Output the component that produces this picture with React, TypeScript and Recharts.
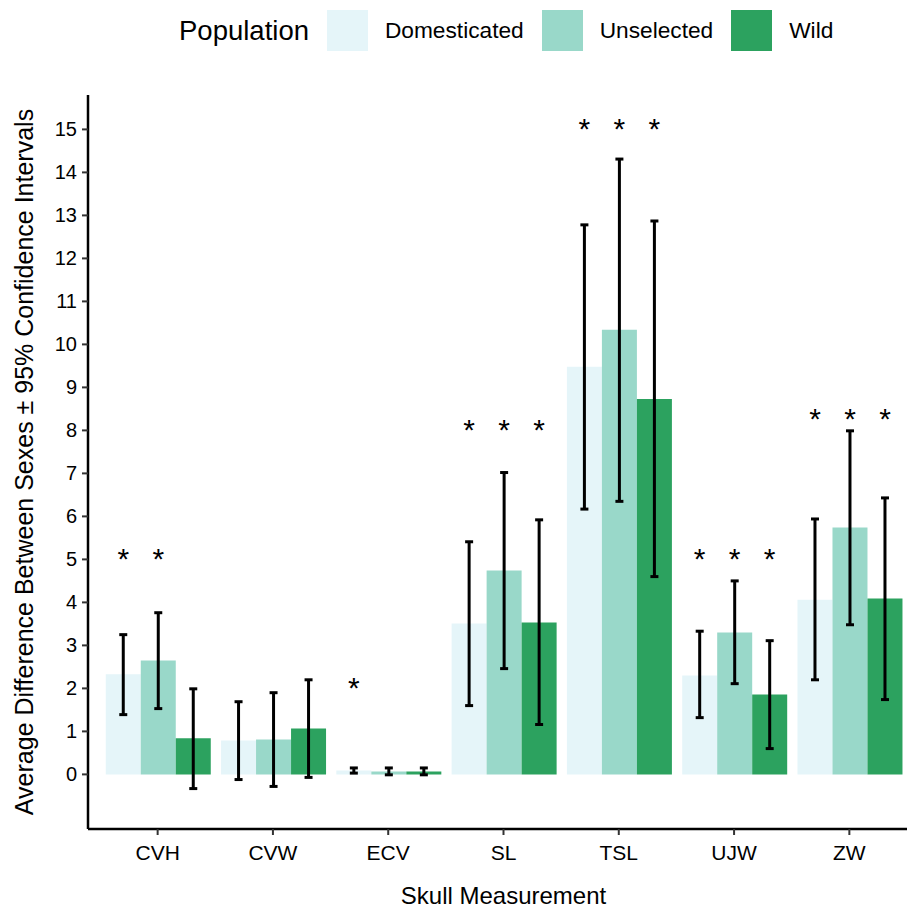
import React from 'react';
import { BarChart, Bar, XAxis, YAxis, ErrorBar, LabelList, Label } from 'recharts';

// skull measurements on the x axis
const categories = ['CVH', 'CVW', 'ECV', 'SL', 'TSL', 'UJW', 'ZW'];

// Domesticated
const domMean = [2.33, 0.79, 0.09, 3.51, 9.48, 2.3, 4.06];
const domLow = [1.39, -0.12, 0.03, 1.6, 6.17, 1.32, 2.2];
const domHigh = [3.25, 1.69, 0.15, 5.41, 12.78, 3.33, 5.94];
const domStar = [5.17, null, 2.17, 8.17, 15.17, 5.17, 8.43];

// Unselected
const unsMean = [2.65, 0.81, 0.07, 4.74, 10.34, 3.3, 5.74];
const unsLow = [1.53, -0.28, -0.01, 2.46, 6.35, 2.11, 3.48];
const unsHigh = [3.76, 1.9, 0.15, 7.02, 14.31, 4.5, 7.99];
const unsStar = [5.17, null, null, 8.17, 15.17, 5.17, 8.43];

// Wild
const wildMean = [0.84, 1.07, 0.07, 3.53, 8.73, 1.86, 4.09];
const wildLow = [-0.33, -0.07, -0.01, 1.16, 4.6, 0.6, 1.74];
const wildHigh = [1.99, 2.2, 0.15, 5.92, 12.87, 3.11, 6.43];
const wildStar = [null, null, null, 8.17, 15.17, 5.17, 8.43];

const yTicks = [0, 1, 2, 3, 4, 5, 6, 7, 8, 9, 10, 11, 12, 13, 14, 15];

const series = [
  { key: 'dom', name: 'Domesticated', color: '#E5F5F9', mean: domMean, low: domLow, high: domHigh, star: domStar },
  { key: 'uns', name: 'Unselected', color: '#99D8C9', mean: unsMean, low: unsLow, high: unsHigh, star: unsStar },
  { key: 'wild', name: 'Wild', color: '#2CA25F', mean: wildMean, low: wildLow, high: wildHigh, star: wildStar },
];

const rows = categories.map((cat, i) => {
  const row: any = { cat };
  series.forEach((s) => {
    row[s.key] = s.mean[i];
    row[s.key + 'Err'] = [s.mean[i] - s.low[i], s.high[i] - s.mean[i]];
    row[s.key + 'Star'] = s.star[i];
  });
  return row;
});

const FONT = '"Liberation Sans", Arial, Helvetica, sans-serif';

// draws a star above the bar, using the bar's own pixel/unit ratio
const makeStar = (key: string) => (props: any) => {
  const vb = props.viewBox || props;
  const row = rows[props.index];
  if (!row || row[key + 'Star'] == null) return null;
  const top = Math.min(vb.y, vb.y + vb.height);
  const h = Math.abs(vb.height);
  const v = row[key];
  if (!v) return null;
  const zero = top + h;
  const cy = zero - row[key + 'Star'] * (h / v);
  return (
    <text x={vb.x + vb.width / 2} y={cy + 17} textAnchor="middle" fontSize={30} fontFamily={FONT} fill="#000">
      *
    </text>
  );
};

const YTitle = (props: any) => {
  const vb = props.viewBox;
  const cy = vb.y + vb.height / 2;
  return (
    <text x={33} y={cy} transform={`rotate(-90, 33, ${cy})`} textAnchor="middle" fontSize={25} fontFamily={FONT} fill="#000">
      Average Difference Between Sexes ± 95% Confidence Intervals
    </text>
  );
};

const XTitle = (props: any) => {
  const vb = props.viewBox;
  return (
    <text x={vb.x + vb.width / 2 + 6} y={904} textAnchor="middle" fontSize={24} fontFamily={FONT} fill="#000">
      Skull Measurement
    </text>
  );
};

const PopLegend = () => (
  <div
    style={{
      position: 'absolute',
      left: 179,
      top: 10,
      height: 41,
      display: 'flex',
      alignItems: 'center',
      fontFamily: FONT,
      color: '#000',
      whiteSpace: 'nowrap',
    }}
  >
    <span style={{ fontSize: 27.5, marginRight: 18 }}>Population</span>
    {series.map((s) => (
      <React.Fragment key={s.key}>
        <span style={{ display: 'inline-block', width: 41, height: 41, background: s.color }} />
        <span style={{ fontSize: 22.7, marginLeft: 17, marginRight: 18 }}>{s.name}</span>
      </React.Fragment>
    ))}
  </div>
);

export default function App() {
  return (
    <div style={{ position: 'absolute', left: 0, top: 0, width: 907, height: 909, background: '#fff' }}>
      <PopLegend />
      <BarChart
        width={907}
        height={909}
        data={rows}
        margin={{ top: 95, right: 0, bottom: 0, left: 0 }}
        barCategoryGap="5%"
        barGap={0}
      >
        <XAxis
          dataKey="cat"
          height={80}
          padding={{ left: 12, right: 0 }}
          axisLine={{ stroke: '#000', strokeWidth: 2.5 }}
          tickLine={{ stroke: '#333', strokeWidth: 2 }}
          tickSize={6}
          tickMargin={10}
          tick={{ fill: '#000', fontSize: 21, fontFamily: FONT }}
        >
          <Label content={XTitle} />
        </XAxis>
        <YAxis
          type="number"
          width={88}
          domain={[-1.27, 15.8]}
          allowDataOverflow
          ticks={yTicks}
          interval={0}
          axisLine={{ stroke: '#000', strokeWidth: 2.5 }}
          tickLine={{ stroke: '#333', strokeWidth: 2 }}
          tickSize={6}
          tickMargin={5}
          tick={{ fill: '#000', fontSize: 20, fontFamily: FONT }}
        >
          <Label content={YTitle} />
        </YAxis>
        {series.map((s) => (
          <Bar key={s.key} dataKey={s.key} name={s.name} fill={s.color} isAnimationActive={false}>
            <ErrorBar dataKey={s.key + 'Err'} width={4} strokeWidth={3} stroke="#000" direction="y" />
            <LabelList dataKey={s.key + 'Star'} content={makeStar(s.key)} />
          </Bar>
        ))}
      </BarChart>
    </div>
  );
}
